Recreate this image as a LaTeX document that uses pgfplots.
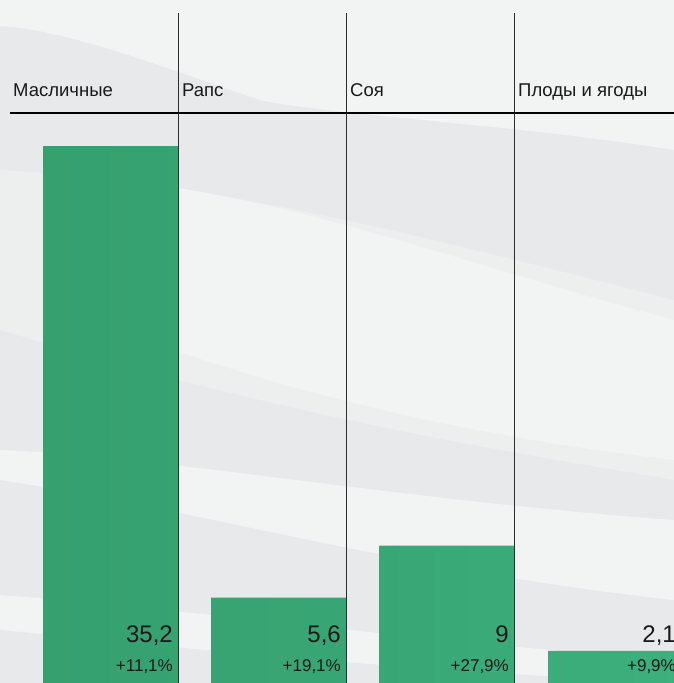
\documentclass[border=0pt]{standalone}
\usepackage{pgfplots}
\pgfplotsset{compat=1.18}
\usepackage{fontspec}
\setmainfont{Liberation Sans}
\definecolor{bgg}{HTML}{E8E9EA}
\definecolor{bgl}{HTML}{F2F3F3}
\definecolor{bgm}{HTML}{EDEEEE}
\definecolor{gA}{HTML}{36A06F}
\definecolor{gB}{HTML}{3CB07D}
\definecolor{gridc}{HTML}{2E2E2E}
\begin{document}
\begin{tikzpicture}
\useasboundingbox (0,0) rectangle (674pt,683pt);
\clip (0,0) rectangle (674pt,683pt);
% background (pixel coordinates from top-left)
\begin{scope}[x=1pt,y=-1pt,shift={(0,683pt)}]
\fill[bgg] (0,0) rectangle (674,683);
\fill[bgl] (0,0) -- (674,0) -- (674,150) .. controls (520,125) and (330,115) .. (260,100) .. controls (170,70) and (70,30) .. (0,26) -- cycle;
\fill[bgm] (0,170) .. controls (200,180) and (400,230) .. (674,300) -- (674,480) .. controls (500,450) and (300,420) .. (0,330) -- cycle;
\fill[bgl] (120,180) .. controls (300,200) and (450,260) .. (674,320) -- (674,460) .. controls (500,440) and (300,400) .. (120,330) -- cycle;
\fill[bgl] (0,450) .. controls (150,455) and (400,500) .. (674,520) -- (674,600) .. controls (400,570) and (200,510) .. (0,480) -- cycle;
\fill[bgl] (0,595) .. controls (200,610) and (400,640) .. (674,660) -- (674,683) -- (0,683) -- cycle;
\fill[bgg] (0,630) .. controls (200,650) and (400,670) .. (674,683) -- (0,683) -- cycle;
\end{scope}
\begin{axis}[
  at={(0,0)}, anchor=south west,
  width=674pt, height=683pt, scale only axis,
  xmin=0, xmax=674, ymin=0, ymax=44.787,
  axis lines=none, ybar, bar width=135,
  clip=true,
]
\addplot[draw=none, left color=gA, right color=gB, middle color=gA!60!gB] coordinates {(110.5,35.2) (278.5,5.6) (446.5,9) (615.5,2.1)};
\end{axis}
\begin{scope}[x=1pt,y=-1pt,shift={(0,683pt)}]
\draw[gridc, line width=1pt] (178,13) -- (178,683) (346,13) -- (346,683) (514,13) -- (514,683);
\draw[black, line width=1.2pt] (10,113) -- (680,113);
\foreach \x/\t in {13/Масличные,182/Рапс,350/Соя,518/{Плоды и ягоды}}
  \node[anchor=base west, inner sep=0pt, font=\fontsize{18.5}{22}\selectfont, text=black!90] at (\x,97) {\t};
\foreach \x/\v/\p in {173/{35,2}/{+11,1\%},341/{5,6}/{+19,1\%},509/9/{+27,9\%},676/{2,1}/{+9,9\%}} {
  \node[anchor=base east, inner sep=0pt, font=\fontsize{24}{28}\selectfont, text=black!90] at (\x,643) {\v};
  \node[anchor=base east, inner sep=0pt, font=\fontsize{17}{20}\selectfont, text=black!90] at (\x,672) {\p};
}
\end{scope}
\end{tikzpicture}
\end{document}
